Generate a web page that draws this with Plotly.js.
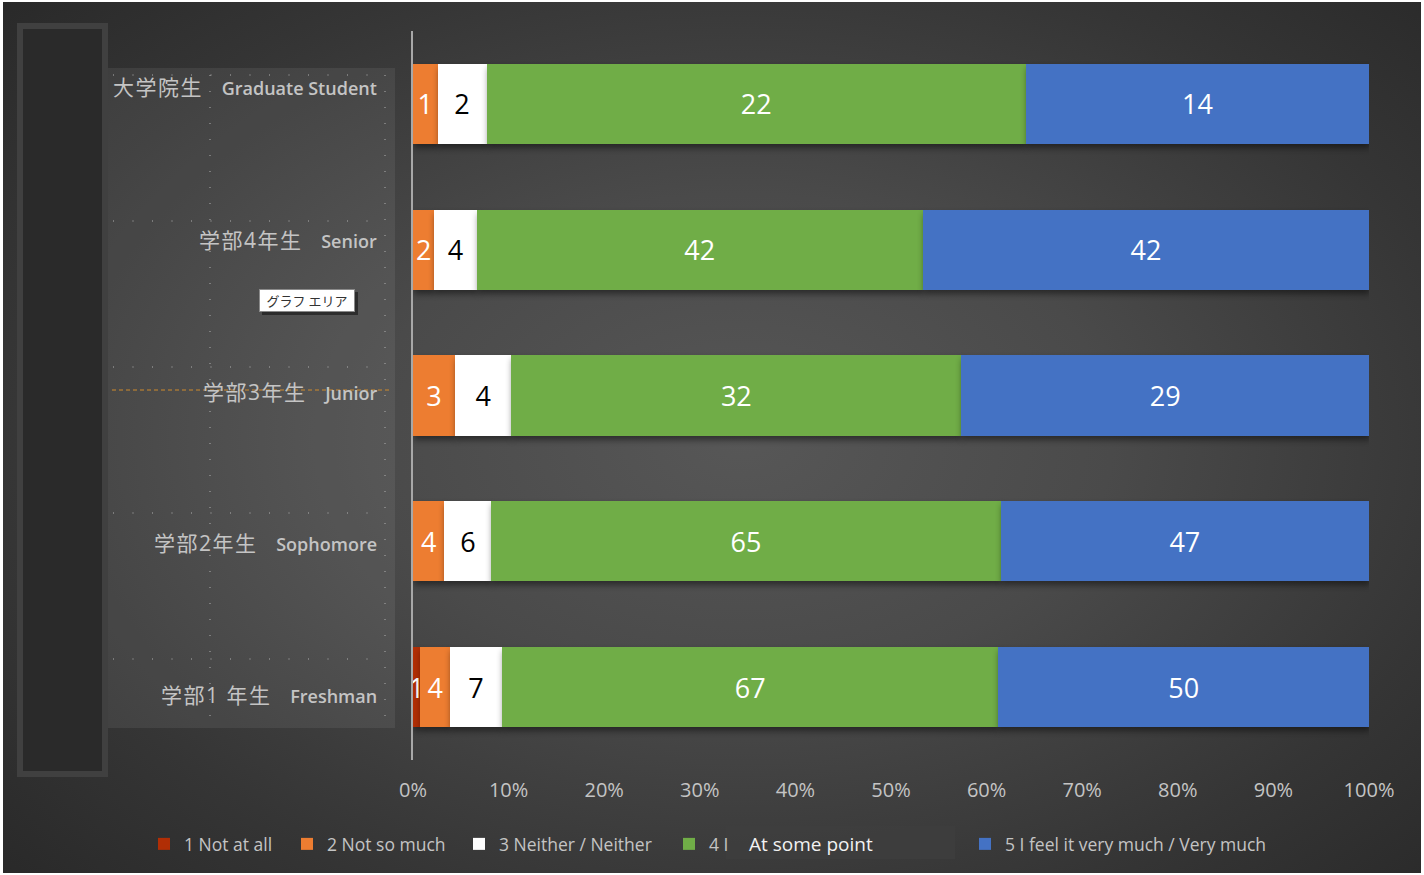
<!DOCTYPE html>
<html>
<head>
<meta charset="utf-8">
<script src="https://cdn.plot.ly/plotly-3.0.1.min.js"></script>
<style>
  html, body { margin: 0; padding: 0; background: #ffffff; }
  #bg { position: absolute; left: 3px; top: 2px; width: 1418px; height: 871px;
        background: radial-gradient(ellipse 75% 80% at 52% 50%, #575757 0%, #4a4a4a 35%, #353535 70%, #262626 100%); }
  #chart { position: absolute; left: 0; top: 0; width: 1424px; height: 875px; }
  #chart .bars path { filter: drop-shadow(1px 4px 3px rgba(0,0,0,0.45)); }
</style>
</head>
<body>
<div id="bg"></div>
<div id="chart"></div>
<script>
// ---- data ----
const categories = ['学部1年生 Freshman', '学部2年生 Sophomore', '学部3年生 Junior', '学部4年生 Senior', '大学院生 Graduate Student'];
const categoryJa = ['学部1 年生', '学部2年生', '学部3年生', '学部4年生', '大学院生'];
const categoryEn = ['Freshman', 'Sophomore', 'Junior', 'Senior', 'Graduate Student'];
const seriesNames = ['1 Not at all', '2 Not so much', '3 Neither / Neither', '4 I', '5 I feel it very much / Very much'];
const notAtAll   = [1, 0, 0, 0, 0];
const notSoMuch  = [4, 4, 3, 2, 1];
const neither    = [7, 6, 4, 4, 2];
const somewhat   = [67, 65, 32, 42, 22];
const veryMuch   = [50, 47, 29, 42, 14];
const xTickVals  = [0, 10, 20, 30, 40, 50, 60, 70, 80, 90, 100];
const xTickText  = ['0%', '10%', '20%', '30%', '40%', '50%', '60%', '70%', '80%', '90%', '100%'];

// ---- styles ----
const colors = ['#b12e05', '#ed7d31', '#ffffff', '#70ad47', '#4472c4'];
const textColors = ['#ffffff', '#ffffff', '#000000', '#ffffff', '#ffffff'];
const labelShift = [-8, -2, 4, 10, 17];
const legendTextX = [184, 327, 499, 709, 1005];

// pixel -> paper helpers (decoration placement only)
const L = 413, R = 1369, T = 31, B = 760;
const px = x => (x - L) / (R - L);
const py = y => (B - y) / (B - T);

const allSeries = [notAtAll, notSoMuch, neither, somewhat, veryMuch];
const traces = allSeries.map((vals, i) => ({
  type: 'bar',
  orientation: 'h',
  name: seriesNames[i],
  y: categories,
  x: vals,
  text: vals.map(v => v > 0 ? String(v) : ''),
  textposition: 'inside',
  insidetextanchor: 'middle',
  constraintext: 'none',
  textangle: 0,
  textfont: { family: 'Open Sans, sans-serif', size: 27, color: textColors[i] },
  marker: { color: colors[i], line: { width: 0 } },
  legend: i === 0 ? 'legend' : 'legend' + (i + 1),
  hoverinfo: 'skip'
}));

const shapes = [];
// left dark rounded panel
shapes.push({ type: 'rect', xref: 'paper', yref: 'paper', layer: 'below',
  x0: px(20), x1: px(105), y0: py(26), y1: py(774),
  fillcolor: '#2a2a2a', line: { color: '#404040', width: 6 } });
// label panel
shapes.push({ type: 'rect', xref: 'paper', yref: 'paper', layer: 'below',
  x0: px(108), x1: px(395), y0: py(68), y1: py(728),
  fillcolor: 'rgba(255,255,255,0.07)', line: { width: 0 } });
// dotted grid in label panel
[75, 221, 367, 513, 659].forEach(y => shapes.push({ type: 'line', xref: 'paper', yref: 'paper', layer: 'below',
  x0: px(113), x1: px(386), y0: py(y), y1: py(y),
  line: { color: '#b0b0b0', width: 1, dash: '1px,18.5px' } }));
[210, 385].forEach(x => shapes.push({ type: 'line', xref: 'paper', yref: 'paper', layer: 'below',
  x0: px(x), x1: px(x), y0: py(75), y1: py(726),
  line: { color: '#b0b0b0', width: 1, dash: '1px,15px' } }));
// orange dashed line
shapes.push({ type: 'line', xref: 'paper', yref: 'paper', layer: 'above',
  x0: px(112), x1: px(392), y0: py(390), y1: py(390),
  line: { color: '#d08b2c', width: 1, dash: '4px,3px' } });
// legend overlay box
shapes.push({ type: 'rect', xref: 'paper', yref: 'paper', layer: 'above',
  x0: px(726), x1: px(955), y0: py(826), y1: py(859),
  fillcolor: 'rgba(62,62,62,0.92)', line: { width: 0 } });
// tooltip shadow
shapes.push({ type: 'rect', xref: 'paper', yref: 'paper', layer: 'above',
  x0: px(262), x1: px(358), y0: py(292), y1: py(315),
  fillcolor: 'rgba(0,0,0,0.45)', line: { width: 0 } });

const annotations = categories.map((c, i) => ({
  xref: 'paper', yref: 'y', x: px(379), y: c, yshift: labelShift[i],
  xanchor: 'right', yanchor: 'middle', showarrow: false,
  text: '<span style="font-size:21px;letter-spacing:1.5px">' + categoryJa[i] + '</span>\u00a0\u00a0\u00a0\u00a0<span style="font-weight:600">' + categoryEn[i] + '</span>',
  font: { family: 'Open Sans, Noto Sans CJK JP, sans-serif', size: 18, color: '#c4c4c4' }
}));
annotations.push({
  xref: 'paper', yref: 'paper', x: px(747), y: py(844), xanchor: 'left', yanchor: 'middle',
  showarrow: false, text: 'At some point',
  font: { family: 'Open Sans, sans-serif', size: 19, color: '#f2f2f2' }
});
annotations.push({
  xref: 'paper', yref: 'paper', x: px(307), y: py(300.5), xanchor: 'center', yanchor: 'middle',
  showarrow: false, text: 'グラフ エリア', bgcolor: '#ffffff', bordercolor: '#8a8a8a', borderwidth: 1,
  width: 92, height: 19,
  font: { family: 'Noto Sans CJK JP, sans-serif', size: 13, color: '#333333' }
});

const layout = {
  width: 1424, height: 875,
  margin: { l: L, r: 1424 - R, t: T, b: 875 - B, pad: 0 },
  paper_bgcolor: 'rgba(0,0,0,0)',
  plot_bgcolor: 'rgba(0,0,0,0)',
  barmode: 'stack',
  barnorm: 'percent',
  bargap: 0.45,
  showlegend: true,
  hovermode: false,
  xaxis: {
    range: [0, 100], tickmode: 'array', tickvals: xTickVals, ticktext: xTickText,
    showgrid: false, zeroline: false, showline: false, ticks: '',
    ticklabelstandoff: 16,
    tickfont: { family: 'Open Sans, sans-serif', size: 20, color: '#c4c4c4' },
    fixedrange: true
  },
  yaxis: {
    type: 'category', categoryarray: categories, range: [-0.5, 4.5],
    showticklabels: false, showgrid: false, zeroline: false,
    showline: true, linecolor: '#a8a8a8', linewidth: 2, ticks: '',
    fixedrange: true
  },
  shapes: shapes,
  annotations: annotations
};

const legendFont = { family: 'Open Sans, sans-serif', size: 17.5, color: '#c4c4c4' };
legendTextX.forEach((tx, i) => {
  const key = i === 0 ? 'legend' : 'legend' + (i + 1);
  layout[key] = {
    orientation: 'h', x: px(tx - 40), xanchor: 'left', y: py(844), yanchor: 'middle',
    bgcolor: 'rgba(0,0,0,0)', borderwidth: 0, font: legendFont
  };
});

Plotly.newPlot('chart', traces, layout, { staticPlot: true, displayModeBar: false });
</script>
</body>
</html>
